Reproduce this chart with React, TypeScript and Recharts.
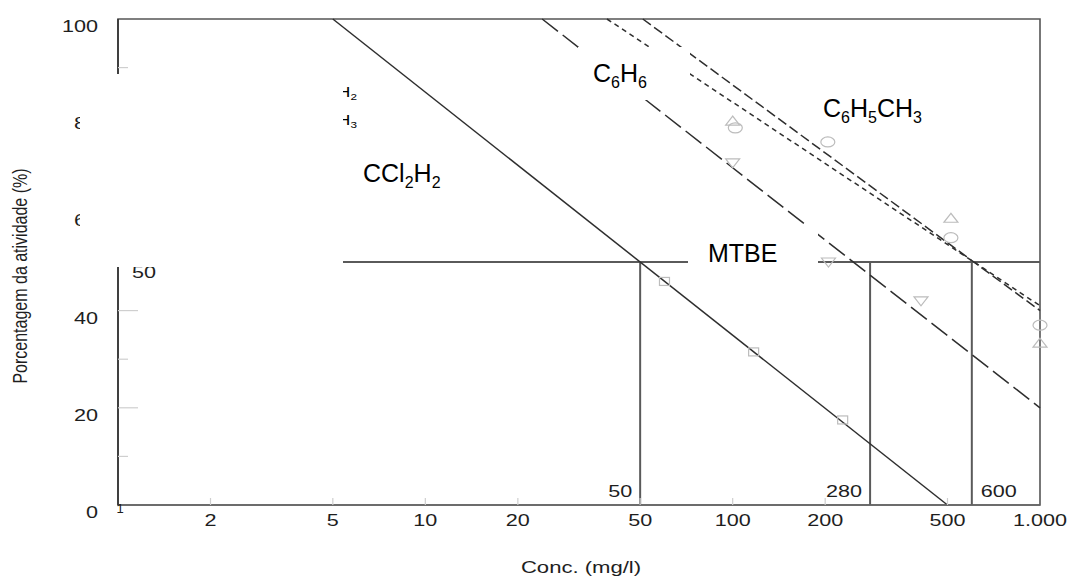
import React from "react";
import {
  ComposedChart,
  Line,
  Scatter,
  XAxis,
  YAxis,
  ReferenceLine,
  ReferenceArea,
  Label,
} from "recharts";

const FONT = '"Liberation Sans", Arial, Helvetica, sans-serif';
const INK = "#1e1e1e";
const LINE = "#2e2e2e";
const MARK = "#bcbcbc";
const GUIDE = "#5a5a5a";
const TICK = "#cfcfcf";
// the printed axis text is slightly widened
const WIDE = 1.27;

const xTicks = [1, 2, 5, 10, 20, 50, 100, 200, 500, 1000];
const xTickLabels = ["1", "2", "5", "10", "20", "50", "100", "200", "500", "1.000"];
const yTicks = [0, 10, 20, 30, 40, 50, 60, 70, 80, 90, 100];
const yMajor = [0, 20, 40, 60, 80, 100];

// fitted lines: concentration (mg/l) -> % of activity
const ccl2h2Fit = [{ x: 5, y: 100 }, { x: 500, y: 0 }];
const mtbeFit = [{ x: 24, y: 100 }, { x: 1000, y: 20 }];
const benzeneFit = [{ x: 39, y: 100 }, { x: 1000, y: 41 }];
const tolueneFit = [{ x: 51, y: 100 }, { x: 1000, y: 40 }];

// measured points
const ccl2h2Pts = [{ x: 60, y: 46 }, { x: 117, y: 31.5 }, { x: 228, y: 17.5 }];
const mtbePts = [{ x: 100, y: 70.4 }, { x: 205, y: 50 }, { x: 410, y: 42 }];
const benzenePts = [{ x: 100, y: 79 }, { x: 513, y: 59 }, { x: 1000, y: 33.3 }];
const toluenePts = [{ x: 102, y: 77.6 }, { x: 204, y: 74.7 }, { x: 513, y: 55 }, { x: 1000, y: 37 }];

const halfLevel = 50;
const halfConcs = [50, 280, 600];
const halfSides = ["left", "left", "right"];

const square = (p: any) => (
  <rect x={p.cx - 5} y={p.cy - 4} width={10} height={8} fill="none" stroke={MARK} strokeWidth={1.2} />
);
const ring = (p: any) => (
  <ellipse cx={p.cx} cy={p.cy} rx={7} ry={5} fill="none" stroke={MARK} strokeWidth={1.2} />
);
const triUp = (p: any) => (
  <polygon
    points={`${p.cx},${p.cy - 5} ${p.cx - 7},${p.cy + 4} ${p.cx + 7},${p.cy + 4}`}
    fill="none"
    stroke={MARK}
    strokeWidth={1.2}
  />
);
const triDown = (p: any) => (
  <polygon
    points={`${p.cx - 7},${p.cy - 4} ${p.cx + 7},${p.cy - 4} ${p.cx},${p.cy + 5}`}
    fill="none"
    stroke={MARK}
    strokeWidth={1.2}
  />
);

function XTick({ x, y, payload }: any) {
  const i = xTicks.indexOf(payload.value);
  const label = xTickLabels[i] ?? String(payload.value);
  const edge = payload.value === 1 || payload.value === 1000;
  if (payload.value === 1) {
    return (
      <text x={x + 2} y={y + 8} textAnchor="middle" fontSize={13} fontFamily={FONT} fill={INK}>
        {label}
      </text>
    );
  }
  return (
    <g>
      {!edge && <line x1={x} x2={x} y1={y} y2={y - 7} stroke={TICK} strokeWidth={1.2} />}
      <text
        transform={`translate(${x},${y + 21}) scale(${WIDE},1)`}
        textAnchor="middle"
        fontSize={17}
        fontFamily={FONT}
        fill={INK}
      >
        {label}
      </text>
    </g>
  );
}

function YTick({ x, y, payload }: any) {
  const v = payload.value;
  const major = yMajor.includes(v);
  const len = major ? 20 : 10;
  return (
    <g>
      {v !== 0 && v !== 100 && (
        <line x1={x} x2={x + len} y1={y} y2={y} stroke={TICK} strokeWidth={1.2} />
      )}
      {major && (
        <text
          transform={`translate(${x - 20},${y + 13}) scale(${WIDE},1)`}
          textAnchor="end"
          fontSize={17}
          fontFamily={FONT}
          fill={INK}
        >
          {v}
        </text>
      )}
    </g>
  );
}

const guideText = (tx: number, ty: number, anchor: string, text: string) => (
  <text
    transform={`translate(${tx},${ty}) scale(${WIDE},1)`}
    textAnchor={anchor}
    fontSize={17}
    fontFamily={FONT}
    fill={INK}
  >
    {text}
  </text>
);

const hLabel = (props: any) => {
  const { x, y } = props.viewBox;
  return guideText(x + 14, y + 16, "start", String(halfLevel));
};

const vLabel = (text: string, side: string) => (props: any) => {
  const { x, y, height } = props.viewBox;
  const base = y + height - 8;
  return side === "left" ? guideText(x - 8, base, "end", text) : guideText(x + 9, base, "start", text);
};

const yTitle = (props: any) => {
  const { y, height } = props.viewBox;
  const cy = y + height / 2 + 14;
  return (
    <text
      transform={`translate(27,${cy}) scale(1.3,1) rotate(-90)`}
      textAnchor="middle"
      fontSize={16}
      fontFamily={FONT}
      fill={INK}
    >
      Porcentagem da atividade (%)
    </text>
  );
};

const xTitle = (props: any) => {
  const { x, width, y } = props.viewBox;
  return (
    <text
      transform={`translate(${x + width / 2 + 2},${y + 68}) scale(1.38,1)`}
      textAnchor="middle"
      fontSize={16}
      fontFamily={FONT}
      fill={INK}
    >
      Conc. (mg/l)
    </text>
  );
};

// chemical formula with subscripts
function Formula({ x, y, parts, size, anchor, stretch }: any) {
  const sub = Math.round(size * 0.64);
  const drop = Math.round(size * 0.22);
  let low = false;
  return (
    <text
      transform={`translate(${x},${y}) scale(${stretch ?? 1},1)`}
      textAnchor={anchor ?? "start"}
      fontSize={size}
      fontFamily={FONT}
      fill="#000"
    >
      {parts.map((p: string, i: number) => {
        const isSub = /^[0-9]$/.test(p);
        const dy = isSub && !low ? drop : !isSub && low ? -drop : 0;
        low = isSub;
        return (
          <tspan key={i} dy={dy} fontSize={isSub ? sub : size}>
            {p}
          </tspan>
        );
      })}
    </text>
  );
}

function Annotations() {
  return (
    <svg
      width={1075}
      height={577}
      style={{ position: "absolute", left: 0, top: 0, pointerEvents: "none" }}
    >
      {/* key entries, mostly hidden under the blank panel */}
      <Formula x={357} y={97} parts={["CCl", "2", "H", "2"]} size={14} anchor="end" stretch={1.3} />
      <Formula x={357} y={125} parts={["C", "6", "H", "5", "CH", "3"]} size={14} anchor="end" stretch={1.3} />
      <rect x={80} y={74} width={263} height={193} fill="#fff" />

      <rect x={578} y={47} width={112} height={53} fill="#fff" />
      <Formula x={593} y={82} parts={["C", "6", "H", "6"]} size={25} />

      <rect x={688} y={226} width={130} height={40} fill="#fff" />
      <text x={708} y={262} fontSize={25} fontFamily={FONT} fill="#000">
        MTBE
      </text>

      <Formula x={363} y={182} parts={["CCl", "2", "H", "2"]} size={25} />
      <Formula x={823} y={117} parts={["C", "6", "H", "5", "CH", "3"]} size={25} />
    </svg>
  );
}

export default function App() {
  return (
    <div style={{ position: "absolute", left: 0, top: 0, width: 1075, height: 577, background: "#fff" }}>
      <ComposedChart width={1075} height={577} margin={{ top: 19, right: 35, bottom: 0, left: 0 }}>
        <XAxis
          dataKey="x"
          type="number"
          scale="log"
          domain={[1, 1000]}
          ticks={xTicks}
          interval={0}
          height={72}
          tickSize={0}
          tickMargin={0}
          tickLine={false}
          tick={<XTick />}
          axisLine={{ stroke: "#666", strokeWidth: 1.6 }}
        >
          <Label content={xTitle} />
        </XAxis>
        <YAxis
          dataKey="y"
          type="number"
          domain={[0, 100]}
          ticks={yTicks}
          interval={0}
          width={118}
          tickSize={0}
          tickMargin={0}
          tickLine={false}
          tick={<YTick />}
          axisLine={{ stroke: "#333", strokeWidth: 1.6 }}
        >
          <Label content={yTitle} />
        </YAxis>

        <ReferenceArea x1={1} x2={1000} y1={0} y2={100} fill="none" stroke="#555" strokeWidth={1.6} />

        <ReferenceLine
          segment={[{ x: 1, y: halfLevel }, { x: 1000, y: halfLevel }]}
          stroke={GUIDE}
          strokeWidth={2}
          label={hLabel}
        />
        {halfConcs.map((c, i) => (
          <ReferenceLine
            key={c}
            segment={[{ x: c, y: 0 }, { x: c, y: halfLevel }]}
            stroke={GUIDE}
            strokeWidth={2}
            label={vLabel(String(c), halfSides[i])}
          />
        ))}

        <Line data={ccl2h2Fit} dataKey="y" type="linear" stroke={LINE} strokeWidth={1.5} dot={false} isAnimationActive={false} />
        <Line data={mtbeFit} dataKey="y" type="linear" stroke={LINE} strokeWidth={1.5} strokeDasharray="20 6" dot={false} isAnimationActive={false} />
        <Line data={benzeneFit} dataKey="y" type="linear" stroke={LINE} strokeWidth={1.5} strokeDasharray="5 4" dot={false} isAnimationActive={false} />
        <Line data={tolueneFit} dataKey="y" type="linear" stroke={LINE} strokeWidth={1.5} strokeDasharray="10 4" dot={false} isAnimationActive={false} />

        <Scatter data={ccl2h2Pts} dataKey="y" shape={square} isAnimationActive={false} />
        <Scatter data={mtbePts} dataKey="y" shape={triDown} isAnimationActive={false} />
        <Scatter data={benzenePts} dataKey="y" shape={triUp} isAnimationActive={false} />
        <Scatter data={toluenePts} dataKey="y" shape={ring} isAnimationActive={false} />
      </ComposedChart>
      <Annotations />
    </div>
  );
}
